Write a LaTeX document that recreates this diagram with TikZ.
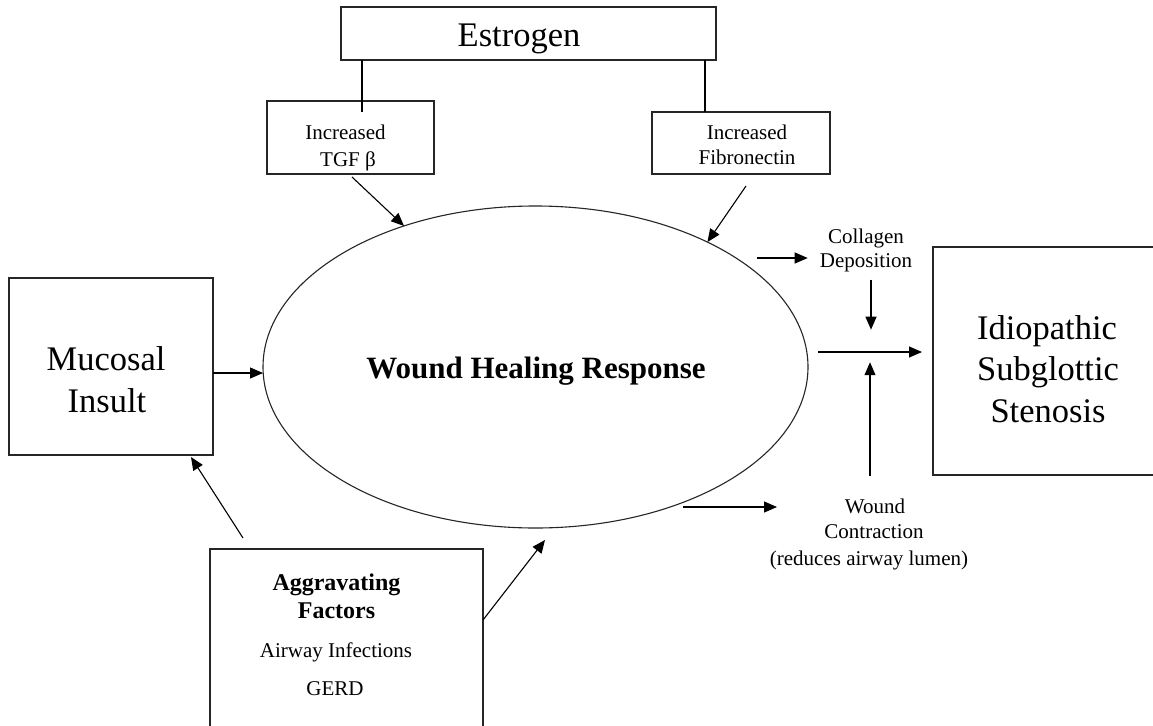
\documentclass[tikz,border=0pt]{standalone}
\usepackage{fontspec}
\setmainfont{Liberation Serif}
\usetikzlibrary{shapes.geometric,arrows.meta,calc}
\begin{document}
\begin{tikzpicture}[x=1pt,y=-1pt,
  box/.style={draw=black!85,line width=1.1pt,inner sep=0pt,outer sep=0pt},
  big/.style={inner sep=0pt,anchor=base,font=\fontsize{34.5}{40}\selectfont},
  sml/.style={inner sep=0pt,anchor=base,font=\fontsize{21}{25}\selectfont},
  bsm/.style={inner sep=0pt,anchor=base,font=\fontsize{24}{28}\selectfont\bfseries},
  arr/.style={line width=1.1pt,-{Triangle[length=13pt,width=11pt]}},
  ln/.style={line width=1.1pt}]
\useasboundingbox (0,0) rectangle (1153,725);
\fill[white] (0,0) rectangle (1153,725);
% boxes
\node[box,minimum width=375pt,minimum height=53pt] (estr) at (528.5,33.5) {};
\node[box,minimum width=167pt,minimum height=73pt] (tgf) at (350.5,137.5) {};
\node[box,minimum width=178pt,minimum height=62pt] (fib) at (741,143) {};
\node[box,minimum width=204pt,minimum height=177pt] (muc) at (111,366.5) {};
\node[box,minimum width=230pt,minimum height=228pt] (isg) at (1048,361) {};
\node[box,minimum width=273pt,minimum height=196pt] (agg) at (346.5,647) {};
\node[box,ellipse,minimum width=545pt,minimum height=322pt] (whr) at (535.5,367) {};
% texts
\node[big] (estrT) at (519,47) {Estrogen};
\node[sml] (tgfA) at (345.5,139) {Increased};
\node[sml] (tgfB) at (348,166) {TGF β};
\node[sml] (fibA) at (747,139) {Increased};
\node[sml] (fibB) at (747,164) {Fibronectin};
\node[sml] (col1) at (866,243) {Collagen};
\node[sml] (col2) at (866,267) {Deposition};
\node[inner sep=0pt,anchor=base,font=\fontsize{31}{36}\selectfont\bfseries] (whrT) at (536,378) {Wound Healing Response};
\node[big] (mucA) at (106,370) {Mucosal};
\node[big] (mucB) at (107,412) {Insult};
\node[big] (isgA) at (1047,339) {Idiopathic};
\node[big] (isgB) at (1048,380) {Subglottic};
\node[big] (isgC) at (1048,422) {Stenosis};
\node[sml] (wc1) at (875,513) {Wound};
\node[sml] (wc2) at (874,538) {Contraction};
\node[sml] (wc3) at (869,565) {(reduces airway lumen)};
\node[bsm] (aggA) at (336.5,590) {Aggravating};
\node[bsm] (aggB) at (336.5,618) {Factors};
\node[sml] (aggC) at (336,657) {Airway Infections};
\node[sml] (aggD) at (335,695) {GERD};
% connectors
\coordinate (el) at (362,0);
\coordinate (er) at (705,0);
\draw[ln] (estr.south -| el) -- ($(tgf.north -| el)+(0,11)$);
\draw[ln] (estr.south -| er) -- (fib.north -| er);
\draw[arr] ($(tgf.south)+(1.5,3)$) -- (whr.133);
\draw[arr] ($(fib.south)+(5,12)$) -- (whr.36);
\coordinate (cA) at (757,258);
\draw[arr] (cA) -- ($(col2.west |- cA)+(-12,0)$);
\draw[arr] ($(col2.south)+(5,8)$) -- ($(col2.south)+(5,58)$);
\coordinate (mA) at (818,352);
\draw[arr] (mA) -- ($(isg.west |- mA)+(-11,0)$);
\draw[arr] ($(wc1.north)+(-5,-22)$) -- ($(wc1.north)+(-5,-136)$);
\coordinate (wA) at (683,507);
\coordinate (wB) at (777,507);
\draw[arr] (wA) -- (wB);
\draw[arr] ($(muc.east)+(0,6.5)$) -- ($(whr.west)+(0,6)$);
\draw[arr] ($(agg.north west)+(33,-11)$) -- ($(muc.south east)+(-22,2)$);
\draw[arr] ($(agg.north east)+(0,71)$) -- ($(whr.south)+(9.5,12)$);
\end{tikzpicture}
\end{document}
